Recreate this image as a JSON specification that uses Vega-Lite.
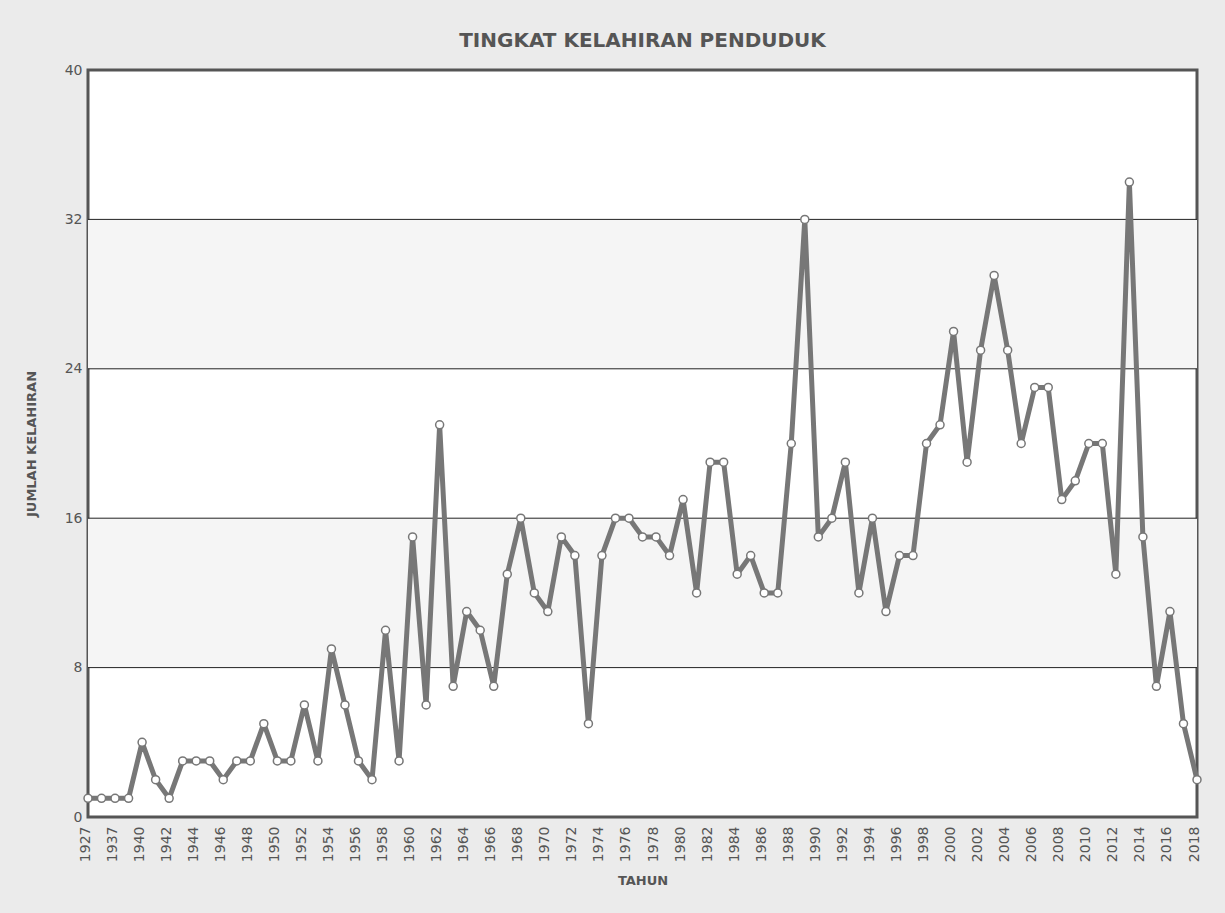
{
  "$schema": "https://vega.github.io/schema/vega-lite/v6.json",
  "width": 1109,
  "height": 747,
  "autosize": {"type": "none"},
  "padding": {"left": 88, "top": 70, "right": 28, "bottom": 96},
  "background": "#ebebeb",
  "title": {"text": "TINGKAT KELAHIRAN PENDUDUK", "font": "DejaVu Sans", "fontSize": 20, "fontWeight": "bold", "color": "#555555", "offset": 12, "anchor": "middle"},
  "config": {"view": {"fill": "white", "stroke": "#555555", "strokeWidth": 3}, "font": "DejaVu Sans"},
  "data": {"values": [
    {"tahun": "1927", "jumlah": 1}, {"tahun": "1930", "jumlah": 1}, {"tahun": "1937", "jumlah": 1}, {"tahun": "1938", "jumlah": 1},
    {"tahun": "1940", "jumlah": 4}, {"tahun": "1941", "jumlah": 2}, {"tahun": "1942", "jumlah": 1}, {"tahun": "1943", "jumlah": 3},
    {"tahun": "1944", "jumlah": 3}, {"tahun": "1945", "jumlah": 3}, {"tahun": "1946", "jumlah": 2}, {"tahun": "1947", "jumlah": 3},
    {"tahun": "1948", "jumlah": 3}, {"tahun": "1949", "jumlah": 5}, {"tahun": "1950", "jumlah": 3}, {"tahun": "1951", "jumlah": 3},
    {"tahun": "1952", "jumlah": 6}, {"tahun": "1953", "jumlah": 3}, {"tahun": "1954", "jumlah": 9}, {"tahun": "1955", "jumlah": 6},
    {"tahun": "1956", "jumlah": 3}, {"tahun": "1957", "jumlah": 2}, {"tahun": "1958", "jumlah": 10}, {"tahun": "1959", "jumlah": 3},
    {"tahun": "1960", "jumlah": 15}, {"tahun": "1961", "jumlah": 6}, {"tahun": "1962", "jumlah": 21}, {"tahun": "1963", "jumlah": 7},
    {"tahun": "1964", "jumlah": 11}, {"tahun": "1965", "jumlah": 10}, {"tahun": "1966", "jumlah": 7}, {"tahun": "1967", "jumlah": 13},
    {"tahun": "1968", "jumlah": 16}, {"tahun": "1969", "jumlah": 12}, {"tahun": "1970", "jumlah": 11}, {"tahun": "1971", "jumlah": 15},
    {"tahun": "1972", "jumlah": 14}, {"tahun": "1973", "jumlah": 5}, {"tahun": "1974", "jumlah": 14}, {"tahun": "1975", "jumlah": 16},
    {"tahun": "1976", "jumlah": 16}, {"tahun": "1977", "jumlah": 15}, {"tahun": "1978", "jumlah": 15}, {"tahun": "1979", "jumlah": 14},
    {"tahun": "1980", "jumlah": 17}, {"tahun": "1981", "jumlah": 12}, {"tahun": "1982", "jumlah": 19}, {"tahun": "1983", "jumlah": 19},
    {"tahun": "1984", "jumlah": 13}, {"tahun": "1985", "jumlah": 14}, {"tahun": "1986", "jumlah": 12}, {"tahun": "1987", "jumlah": 12},
    {"tahun": "1988", "jumlah": 20}, {"tahun": "1989", "jumlah": 32}, {"tahun": "1990", "jumlah": 15}, {"tahun": "1991", "jumlah": 16},
    {"tahun": "1992", "jumlah": 19}, {"tahun": "1993", "jumlah": 12}, {"tahun": "1994", "jumlah": 16}, {"tahun": "1995", "jumlah": 11},
    {"tahun": "1996", "jumlah": 14}, {"tahun": "1997", "jumlah": 14}, {"tahun": "1998", "jumlah": 20}, {"tahun": "1999", "jumlah": 21},
    {"tahun": "2000", "jumlah": 26}, {"tahun": "2001", "jumlah": 19}, {"tahun": "2002", "jumlah": 25}, {"tahun": "2003", "jumlah": 29},
    {"tahun": "2004", "jumlah": 25}, {"tahun": "2005", "jumlah": 20}, {"tahun": "2006", "jumlah": 23}, {"tahun": "2007", "jumlah": 23},
    {"tahun": "2008", "jumlah": 17}, {"tahun": "2009", "jumlah": 18}, {"tahun": "2010", "jumlah": 20}, {"tahun": "2011", "jumlah": 20},
    {"tahun": "2012", "jumlah": 13}, {"tahun": "2013", "jumlah": 34}, {"tahun": "2014", "jumlah": 15}, {"tahun": "2015", "jumlah": 7},
    {"tahun": "2016", "jumlah": 11}, {"tahun": "2017", "jumlah": 5}, {"tahun": "2018", "jumlah": 2}
  ]},
  "layer": [
    {
      "data": {"values": [{"lo": 8, "hi": 16}, {"lo": 24, "hi": 32}]},
      "mark": {"type": "rect", "color": "#f5f5f5"},
      "encoding": {
        "y": {"field": "lo", "type": "quantitative", "scale": {"domain": [0, 40]},
          "axis": {"values": [0, 8, 16, 24, 32, 40], "grid": false, "ticks": false, "domain": false, "labelFontSize": 14, "labelColor": "#555555", "labelPadding": 6,
            "title": "JUMLAH KELAHIRAN", "titleFontSize": 13, "titleFontWeight": "bold", "titleColor": "#555555", "titlePadding": 26}},
        "y2": {"field": "hi"}
      }
    },
    {
      "data": {"values": [{"g": 8}, {"g": 16}, {"g": 24}, {"g": 32}]},
      "mark": {"type": "rule", "color": "#222222", "strokeWidth": 1},
      "encoding": {
        "y": {"field": "g", "type": "quantitative", "scale": {"domain": [0, 40]},
          "axis": {"values": [0, 8, 16, 24, 32, 40], "grid": false, "ticks": false, "domain": false, "labelFontSize": 14, "labelColor": "#555555", "labelPadding": 6,
            "title": "JUMLAH KELAHIRAN", "titleFontSize": 13, "titleFontWeight": "bold", "titleColor": "#555555", "titlePadding": 26}}
      }
    },
    {
      "mark": {"type": "line", "color": "#777777", "strokeWidth": 5, "strokeJoin": "round"},
      "encoding": {
        "x": {"field": "tahun", "type": "ordinal", "sort": null, "scale": {"type": "point", "padding": 0},
          "axis": {"values": ["1927","1937","1940","1942","1944","1946","1948","1950","1952","1954","1956","1958","1960","1962","1964","1966","1968","1970","1972","1974","1976","1978","1980","1982","1984","1986","1988","1990","1992","1994","1996","1998","2000","2002","2004","2006","2008","2010","2012","2014","2016","2018"],
            "labelAngle": -90, "labelAlign": "right", "labelBaseline": "middle", "labelOffset": -3, "labelFontSize": 14, "labelColor": "#555555", "ticks": false, "domain": false, "labelPadding": 9,
            "title": "TAHUN", "titleFontSize": 13, "titleFontWeight": "bold", "titleColor": "#555555", "titlePadding": 13}},
        "y": {"field": "jumlah", "type": "quantitative", "scale": {"domain": [0, 40]},
          "axis": {"values": [0, 8, 16, 24, 32, 40], "grid": false, "ticks": false, "domain": false, "labelFontSize": 14, "labelColor": "#555555", "labelPadding": 6,
            "title": "JUMLAH KELAHIRAN", "titleFontSize": 13, "titleFontWeight": "bold", "titleColor": "#555555", "titlePadding": 26}}
      }
    },
    {
      "mark": {"type": "point", "shape": "circle", "filled": false, "fill": "white", "fillOpacity": 1, "stroke": "#777777", "strokeWidth": 1.5, "size": 64, "opacity": 1},
      "encoding": {
        "x": {"field": "tahun", "type": "ordinal", "sort": null},
        "y": {"field": "jumlah", "type": "quantitative"}
      }
    }
  ]
}
